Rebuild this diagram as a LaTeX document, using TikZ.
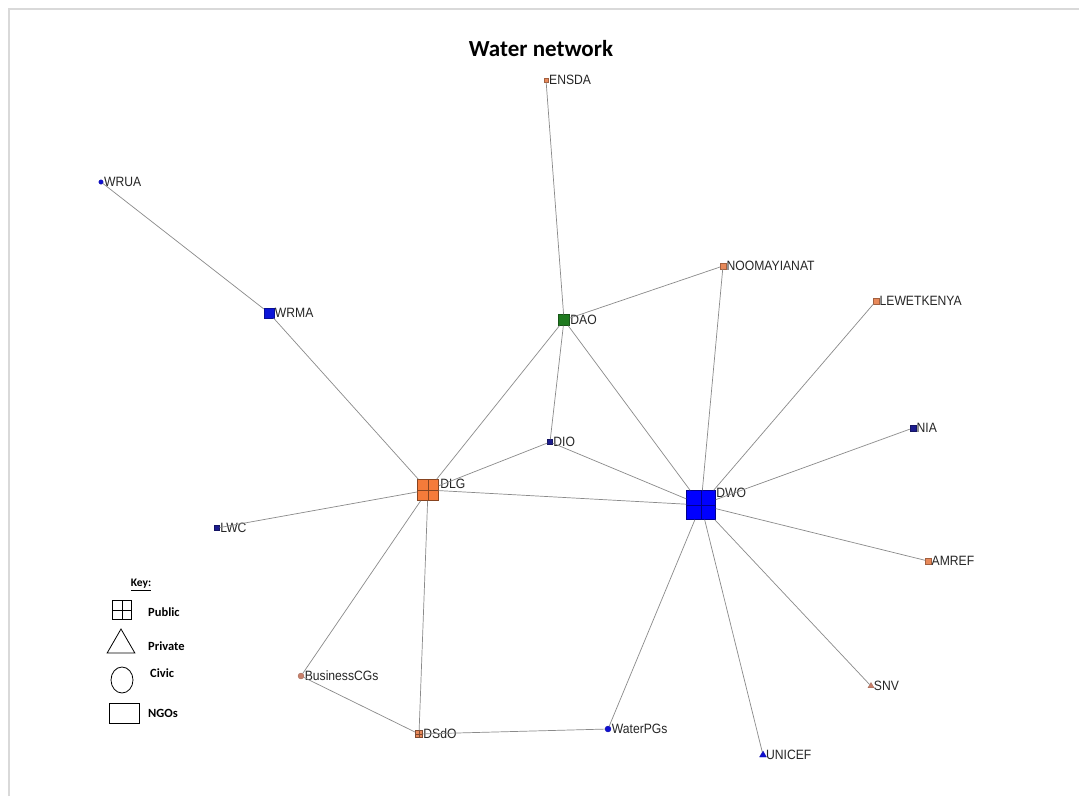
\documentclass[tikz,border=0pt]{standalone}
\usepackage{fontspec}
\setmainfont{Carlito}
\newfontfamily\labfont[FakeStretch=0.9]{Liberation Sans}
\usetikzlibrary{shapes.geometric}

\definecolor{edgegray}{HTML}{8A8A8A}
\definecolor{framegray}{HTML}{D9D9D9}
\definecolor{pubor}{HTML}{F57B3A}
\definecolor{pubblue}{HTML}{0000FF}
\definecolor{daogreen}{HTML}{1F7A1F}
\definecolor{wrmablue}{HTML}{0A14D8}
\definecolor{navy}{HTML}{1C1C8E}
\definecolor{smallor}{HTML}{E8895A}
\definecolor{civbrown}{HTML}{C8806A}
\definecolor{dotblue}{HTML}{1010D0}

\tikzset{
  lab/.style={font=\labfont\fontsize{13.5}{13.5}\selectfont, text=black!85, inner sep=0.5pt},
  sq/.style={rectangle, draw=#1!70!black, fill=#1, line width=0.4pt, inner sep=0pt},
  crossq/.style={rectangle, draw=#1!55!black, fill=#1, line width=0.5pt, inner sep=0pt,
    path picture={\draw[#1!55!black, line width=0.5pt]
      (path picture bounding box.north) -- (path picture bounding box.south)
      (path picture bounding box.west) -- (path picture bounding box.east);}},
  dot/.style={circle, fill=#1, draw=#1!80!black, line width=0.3pt, inner sep=0pt},
  tri/.style={regular polygon, regular polygon sides=3, fill=#1, draw=#1!80!black,
    line width=0.3pt, inner sep=0pt},
  tie/.style={draw=edgegray, line width=0.7pt},
  keytext/.style={font=\bfseries\fontsize{12.5}{13}\selectfont, anchor=west, inner sep=0pt},
  keyshape/.style={draw=black, line width=0.8pt, fill=none},
  lr/.style={label={[lab, anchor=west]east:#1}},
}

\begin{document}
\begin{tikzpicture}[x=1pt,y=-1pt]
\useasboundingbox (0,0) rectangle (1079,796);
\fill[white] (0,0) rectangle (1079,796);
% frame
\draw[framegray, line width=2pt] (9,796) -- (9,9) -- (1079,9);

% title
\node[font=\bfseries\fontsize{23}{24}\selectfont] (title) at (541,49) {Water network};

% actors
\node[crossq=pubor, minimum size=21pt,
  label={[lab, anchor=north west, yshift=1pt, xshift=1pt]north east:DLG}] (DLG) at (428,490) {};
\node[crossq=pubblue, minimum size=29pt,
  label={[lab, anchor=north west, yshift=3pt, xshift=0pt]north east:DWO}] (DWO) at (701,505) {};
\node[sq=daogreen, minimum size=11pt, lr=DAO] (DAO) at (564,320) {};
\node[sq=wrmablue, minimum size=10pt, lr=WRMA] (WRMA) at (269,313) {};
\node[sq=smallor, minimum size=4.5pt, lr=ENSDA] (ENSDA) at (546,80) {};
\node[dot=dotblue, minimum size=4.5pt, lr=WRUA] (WRUA) at (101,182) {};
\node[sq=smallor, minimum size=5.5pt, lr=NOOMAYIANAT] (NOOM) at (723,266) {};
\node[sq=smallor, minimum size=5.5pt, lr=LEWETKENYA] (LEWET) at (876,301) {};
\node[sq=navy, minimum size=5pt, lr=DIO] (DIO) at (550,442) {};
\node[sq=navy, minimum size=5.5pt, lr=NIA] (NIA) at (913,428) {};
\node[sq=navy, minimum size=5pt, lr=LWC] (LWC) at (217,528) {};
\node[sq=smallor, minimum size=5.5pt, lr=AMREF] (AMREF) at (928,561) {};
\node[tri=civbrown, minimum size=7pt, lr=SNV] (SNV) at (871,686) {};
\node[tri=dotblue, minimum size=8pt, lr=UNICEF] (UNICEF) at (763,755) {};
\node[dot=dotblue, minimum size=6pt, lr=WaterPGs] (WPG) at (608,729) {};
\node[crossq=smallor, minimum size=7pt, lr=DSdO] (DSDO) at (419,734) {};
\node[dot=civbrown, minimum size=6pt, lr=BusinessCGs] (BCG) at (301,676) {};

% ties
\path[tie]
  (WRUA) -- (WRMA)
  (WRMA) -- (DLG)
  (ENSDA) -- (DAO)
  (DAO) -- (NOOM)
  (DAO) -- (DLG)
  (DAO) -- (DIO)
  (DAO) -- (DWO)
  (NOOM) -- (DWO)
  (LEWET) -- (DWO)
  (NIA) -- (DWO)
  (DIO) -- (DLG)
  (DIO) -- (DWO)
  (DLG) -- (DWO)
  (DLG) -- (LWC)
  (DLG) -- (BCG)
  (DLG) -- (DSDO)
  (BCG) -- (DSDO)
  (DSDO) -- (WPG)
  (WPG) -- (DWO)
  (DWO) -- (UNICEF)
  (DWO) -- (SNV)
  (DWO) -- (AMREF);

% key
\node[font=\bfseries\fontsize{11.5}{12}\selectfont, inner sep=0pt] (keyhead) at (141,585) {\underline{Key:}};
\node[keyshape, rectangle, minimum size=19pt, inner sep=0pt,
  path picture={\draw[line width=0.8pt]
    (path picture bounding box.north) -- (path picture bounding box.south)
    (path picture bounding box.west) -- (path picture bounding box.east);}] (kpub) at (122,610) {};
\node[keyshape, isosceles triangle, isosceles triangle apex angle=60, shape border rotate=90,
  minimum height=24pt, inner sep=0pt] (kpriv) at (121,645) {};
\node[keyshape, ellipse, minimum width=22pt, minimum height=26pt, inner sep=0pt] (kciv) at (122,680) {};
\node[keyshape, rectangle, minimum width=30pt, minimum height=20pt, inner sep=0pt] (kngo) at (124,713) {};
\node[keytext] (tpub) at (148,612) {Public};
\node[keytext] (tpriv) at (148,646) {Private};
\node[keytext] (tciv) at (150,673) {Civic};
\node[keytext] (tngo) at (148,713) {NGOs};
\end{tikzpicture}
\end{document}
